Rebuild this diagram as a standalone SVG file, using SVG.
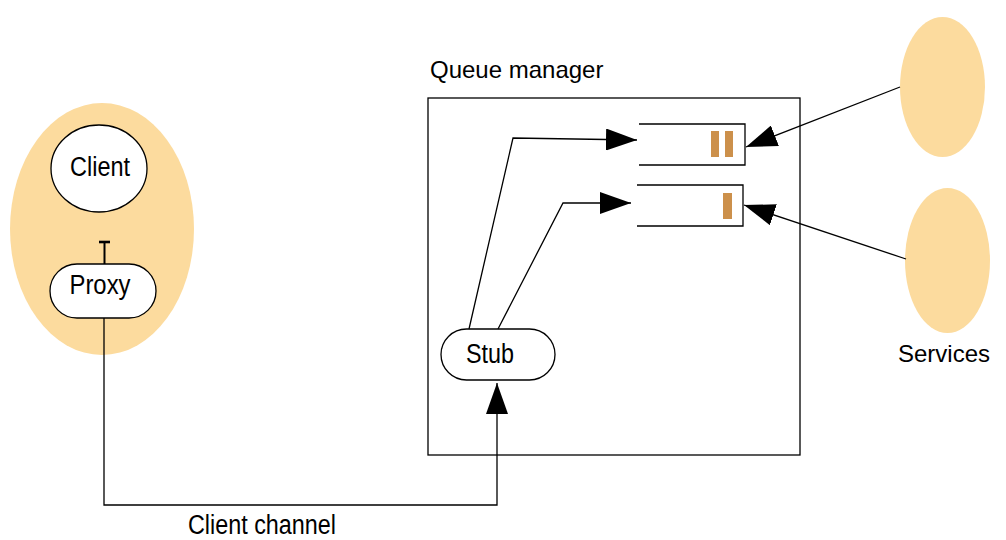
<svg xmlns="http://www.w3.org/2000/svg" width="1006" height="540" viewBox="0 0 1006 540">
<defs>
<style>
.blob{fill:#FCDB9E;stroke:none}
.node{fill:#fff;stroke:#000;stroke-width:1.3}
.line{fill:none;stroke:#000;stroke-width:1.3}
.bar{fill:#CC904B}
.nar{font-family:"Liberation Sans",Arial,sans-serif;font-size:27px;fill:#000}
.lbl{font-family:"Liberation Sans",Arial,sans-serif;font-size:24px;fill:#000}
</style>
<marker id="ah" markerUnits="userSpaceOnUse" markerWidth="32" markerHeight="22" refX="31" refY="11" orient="auto">
<path d="M0,0 L31,11 L0,22 Z" fill="#000"/>
</marker>
</defs>
<rect width="1006" height="540" fill="#fff"/>

<g id="client-process">
<ellipse class="blob" cx="102" cy="229" rx="92" ry="126"/>
</g>
<g id="client">
<ellipse class="node" cx="99" cy="168.5" rx="48" ry="43.5"/>
<text class="nar" x="100" y="176" text-anchor="middle" textLength="60" lengthAdjust="spacingAndGlyphs">Client</text>
</g>
<g id="proxy">
<rect class="node" x="50" y="264" width="106" height="54" rx="27"/>
<text class="nar" x="100" y="294" text-anchor="middle" textLength="61" lengthAdjust="spacingAndGlyphs">Proxy</text>
<line x1="99" y1="242" x2="110" y2="242" stroke="#000" stroke-width="2.6"/>
<line x1="104.5" y1="242" x2="104.5" y2="264" stroke="#000" stroke-width="2"/>
</g>

<g id="queue-manager">
<rect x="428" y="98" width="372" height="357" fill="none" stroke="#000" stroke-width="1.3"/>
<text class="lbl" x="430" y="78">Queue manager</text>
</g>
<g id="queue-1">
<path class="line" d="M639,124 H745 V165 H639"/>
<rect class="bar" x="711" y="131" width="8" height="26"/>
<rect class="bar" x="725" y="131" width="8" height="26"/>
</g>
<g id="queue-2">
<path class="line" d="M637,185 H743 V226 H637"/>
<rect class="bar" x="723" y="193" width="9" height="26"/>
</g>
<g id="stub">
<rect class="node" x="441" y="329" width="114" height="51" rx="25.5"/>
<text class="nar" x="490" y="363" text-anchor="middle" textLength="48" lengthAdjust="spacingAndGlyphs">Stub</text>
</g>

<g id="service-1">
<ellipse class="blob" cx="942.5" cy="87" rx="42.5" ry="70"/>
</g>
<g id="service-2">
<ellipse class="blob" cx="947.5" cy="260.5" rx="42.5" ry="72.5"/>
<text class="lbl" x="898" y="362">Services</text>
</g>

<g id="connectors">
<path class="line" d="M104,318 V505 H497 V383" marker-end="url(#ah)"/>
<path class="line" d="M469,329 L513,138 L637,140" marker-end="url(#ah)"/>
<path class="line" d="M498,329 L563,203 L631,203" marker-end="url(#ah)"/>
<path class="line" d="M900,87 L746,147" marker-end="url(#ah)"/>
<path class="line" d="M906,259 L744,205" marker-end="url(#ah)"/>
<text class="nar" x="188" y="534" textLength="148" lengthAdjust="spacingAndGlyphs">Client channel</text>
</g>
</svg>
